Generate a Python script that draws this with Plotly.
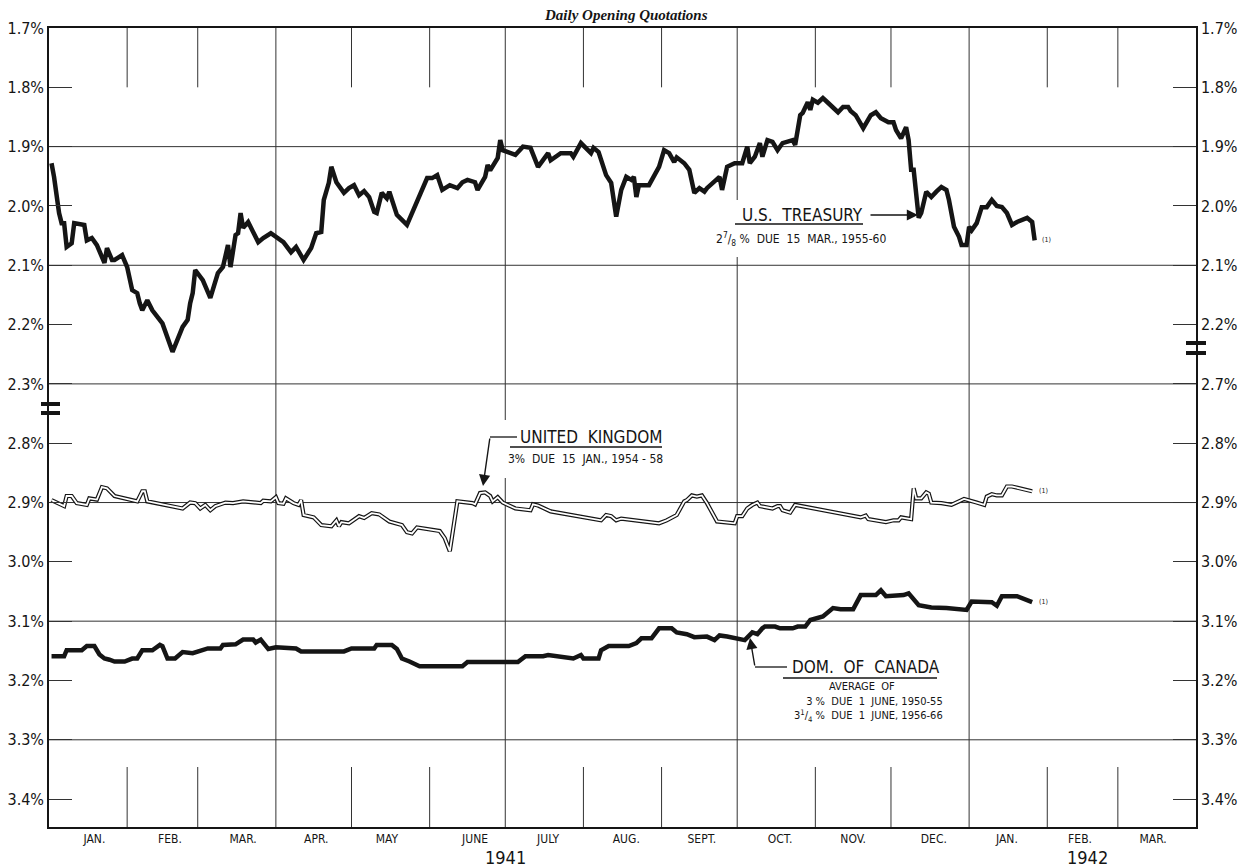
import plotly.graph_objects as go

# ---------------- data ----------------
us_dates = [
    "1941-01-02", "1941-01-03", "1941-01-05", "1941-01-06", "1941-01-07", "1941-01-08", "1941-01-10",
    "1941-01-11", "1941-01-15", "1941-01-16", "1941-01-18", "1941-01-20", "1941-01-23", "1941-01-24",
    "1941-01-26", "1941-01-27", "1941-01-30", "1941-02-01", "1941-02-03", "1941-02-05", "1941-02-06",
    "1941-02-07", "1941-02-09", "1941-02-11", "1941-02-15", "1941-02-19", "1941-02-23", "1941-02-25",
    "1941-02-26", "1941-02-27", "1941-02-28", "1941-03-03", "1941-03-06", "1941-03-09", "1941-03-11",
    "1941-03-13", "1941-03-14", "1941-03-16", "1941-03-17", "1941-03-18", "1941-03-19", "1941-03-21",
    "1941-03-25", "1941-03-27", "1941-03-30", "1941-04-01", "1941-04-04", "1941-04-07", "1941-04-09",
    "1941-04-12", "1941-04-15", "1941-04-17", "1941-04-19", "1941-04-20", "1941-04-22", "1941-04-23",
    "1941-04-25", "1941-04-28", "1941-04-30", "1941-05-02", "1941-05-04", "1941-05-06", "1941-05-08",
    "1941-05-10", "1941-05-11", "1941-05-13", "1941-05-15", "1941-05-16", "1941-05-19", "1941-05-23",
    "1941-05-25", "1941-05-28", "1941-05-31", "1941-06-02", "1941-06-04", "1941-06-06", "1941-06-09",
    "1941-06-12", "1941-06-14", "1941-06-16", "1941-06-19", "1941-06-20", "1941-06-23", "1941-06-24",
    "1941-06-25", "1941-06-28", "1941-06-29", "1941-06-30", "1941-07-03", "1941-07-05", "1941-07-08",
    "1941-07-11", "1941-07-14", "1941-07-18", "1941-07-19", "1941-07-23", "1941-07-27", "1941-07-28",
    "1941-07-31", "1941-08-02", "1941-08-04", "1941-08-05", "1941-08-07", "1941-08-10", "1941-08-12",
    "1941-08-14", "1941-08-16", "1941-08-18", "1941-08-20", "1941-08-21", "1941-08-22", "1941-08-23",
    "1941-08-27", "1941-08-31", "1941-09-02", "1941-09-04", "1941-09-06", "1941-09-07", "1941-09-10",
    "1941-09-12", "1941-09-14", "1941-09-16", "1941-09-18", "1941-09-19", "1941-09-22", "1941-09-24",
    "1941-09-25", "1941-09-27", "1941-09-30", "1941-10-03", "1941-10-05", "1941-10-06", "1941-10-08",
    "1941-10-10", "1941-10-11", "1941-10-13", "1941-10-15", "1941-10-17", "1941-10-19", "1941-10-21",
    "1941-10-23", "1941-10-24", "1941-10-26", "1941-10-27", "1941-10-29", "1941-10-30", "1941-10-31",
    "1941-11-02", "1941-11-04", "1941-11-06", "1941-11-08", "1941-11-10", "1941-11-12", "1941-11-14",
    "1941-11-15", "1941-11-17", "1941-11-20", "1941-11-23", "1941-11-25", "1941-11-27", "1941-11-30",
    "1941-12-02", "1941-12-03", "1941-12-05", "1941-12-07", "1941-12-08", "1941-12-09", "1941-12-10",
    "1941-12-12", "1941-12-13", "1941-12-15", "1941-12-17", "1941-12-19", "1941-12-21", "1941-12-23",
    "1941-12-24", "1941-12-26", "1941-12-28", "1941-12-29", "1941-12-31", "1942-01-01", "1942-01-02",
    "1942-01-04", "1942-01-06", "1942-01-08", "1942-01-09", "1942-01-10", "1942-01-12", "1942-01-14",
    "1942-01-16", "1942-01-18", "1942-01-20", "1942-01-22", "1942-01-24", "1942-01-26", "1942-01-27",
]
us_yield = [
    1.928, 1.951, 2.012, 2.029, 2.029, 2.069, 2.063,
    2.029, 2.032, 2.058, 2.054, 2.066, 2.096, 2.071,
    2.091, 2.091, 2.083, 2.103, 2.142, 2.147, 2.164,
    2.176, 2.159, 2.176, 2.198, 2.246, 2.204, 2.192,
    2.164, 2.147, 2.108, 2.125, 2.155, 2.113, 2.103,
    2.066, 2.103, 2.049, 2.046, 2.012, 2.037, 2.027,
    2.061, 2.054, 2.046, 2.052, 2.061, 2.078, 2.069,
    2.091, 2.071, 2.046, 2.044, 1.990, 1.961, 1.934,
    1.960, 1.978, 1.970, 1.965, 1.982, 1.975, 1.985,
    2.010, 2.012, 1.978, 1.987, 1.976, 2.015, 2.032,
    2.012, 1.985, 1.953, 1.953, 1.948, 1.973, 1.965,
    1.970, 1.960, 1.956, 1.960, 1.973, 1.951, 1.931,
    1.940, 1.919, 1.889, 1.906, 1.911, 1.914, 1.900,
    1.902, 1.934, 1.911, 1.923, 1.911, 1.911, 1.917,
    1.894, 1.902, 1.911, 1.902, 1.909, 1.948, 1.961,
    2.018, 1.973, 1.951, 1.956, 1.951, 1.985, 1.965,
    1.965, 1.934, 1.906, 1.911, 1.926, 1.918, 1.928,
    1.939, 1.978, 1.970, 1.976, 1.970, 1.960, 1.951,
    1.973, 1.934, 1.928, 1.928, 1.900, 1.928, 1.917,
    1.894, 1.917, 1.889, 1.892, 1.906, 1.894, 1.892,
    1.889, 1.897, 1.847, 1.843, 1.825, 1.838, 1.821,
    1.826, 1.818, 1.826, 1.833, 1.842, 1.833, 1.833,
    1.840, 1.847, 1.869, 1.847, 1.842, 1.852, 1.859,
    1.859, 1.872, 1.886, 1.867, 1.889, 1.939, 1.939,
    2.020, 2.012, 1.976, 1.985, 1.976, 1.968, 1.973,
    1.990, 2.035, 2.052, 2.066, 2.066, 2.035, 2.041,
    2.029, 2.002, 2.002, 1.995, 1.990, 2.000, 2.002,
    2.012, 2.032, 2.027, 2.024, 2.020, 2.027, 2.058,
]

uk_dates = [
    "1941-01-02", "1941-01-07", "1941-01-08", "1941-01-10", "1941-01-12", "1941-01-16", "1941-01-17",
    "1941-01-20", "1941-01-22", "1941-01-24", "1941-01-27", "1941-02-05", "1941-02-07", "1941-02-08",
    "1941-02-09", "1941-02-23", "1941-02-26", "1941-02-28", "1941-03-02", "1941-03-04", "1941-03-06",
    "1941-03-08", "1941-03-12", "1941-03-15", "1941-03-19", "1941-03-26", "1941-03-27", "1941-03-30",
    "1941-04-01", "1941-04-02", "1941-04-04", "1941-04-05", "1941-04-08", "1941-04-10", "1941-04-11",
    "1941-04-12", "1941-04-16", "1941-04-19", "1941-04-23", "1941-04-25", "1941-04-26", "1941-04-27",
    "1941-04-30", "1941-05-04", "1941-05-06", "1941-05-09", "1941-05-12", "1941-05-16", "1941-05-21",
    "1941-05-23", "1941-05-25", "1941-05-27", "1941-06-05", "1941-06-07", "1941-06-09", "1941-06-12",
    "1941-06-18", "1941-06-19", "1941-06-21", "1941-06-23", "1941-06-25", "1941-06-26", "1941-06-28",
    "1941-06-30", "1941-07-05", "1941-07-11", "1941-07-12", "1941-07-14", "1941-07-19", "1941-08-08",
    "1941-08-10", "1941-08-12", "1941-08-14", "1941-08-16", "1941-08-31", "1941-09-03", "1941-09-07",
    "1941-09-10", "1941-09-11", "1941-09-13", "1941-09-15", "1941-09-17", "1941-09-19", "1941-09-23",
    "1941-09-30", "1941-10-01", "1941-10-03", "1941-10-05", "1941-10-07", "1941-10-09", "1941-10-10",
    "1941-10-15", "1941-10-17", "1941-10-18", "1941-10-19", "1941-10-22", "1941-10-24", "1941-11-14",
    "1941-11-19", "1941-11-21", "1941-11-22", "1941-11-29", "1941-12-02", "1941-12-04", "1941-12-05",
    "1941-12-09", "1941-12-10", "1941-12-11", "1941-12-13", "1941-12-15", "1941-12-16", "1941-12-17",
    "1941-12-21", "1941-12-25", "1941-12-30", "1942-01-04", "1942-01-07", "1942-01-08", "1942-01-10",
    "1942-01-12", "1942-01-14", "1942-01-16", "1942-01-18", "1942-01-26",
]
uk_yield = [
    2.896, 2.906, 2.889, 2.889, 2.901, 2.904, 2.893,
    2.895, 2.874, 2.876, 2.889, 2.898, 2.881, 2.881,
    2.898, 2.910, 2.900, 2.901, 2.910, 2.904, 2.913,
    2.906, 2.900, 2.901, 2.898, 2.901, 2.897, 2.898,
    2.891, 2.901, 2.902, 2.893, 2.901, 2.904, 2.896,
    2.921, 2.925, 2.938, 2.940, 2.930, 2.940, 2.933,
    2.935, 2.923, 2.926, 2.918, 2.920, 2.932, 2.938,
    2.950, 2.952, 2.942, 2.948, 2.960, 2.982, 2.898,
    2.901, 2.903, 2.884, 2.883, 2.889, 2.898, 2.891,
    2.900, 2.910, 2.913, 2.903, 2.905, 2.915, 2.930,
    2.921, 2.923, 2.930, 2.927, 2.935, 2.930, 2.921,
    2.898, 2.896, 2.888, 2.890, 2.888, 2.901, 2.932,
    2.935, 2.923, 2.923, 2.910, 2.904, 2.900, 2.906,
    2.910, 2.906, 2.906, 2.913, 2.917, 2.904, 2.921,
    2.925, 2.922, 2.928, 2.933, 2.930, 2.930, 2.925,
    2.928, 2.876, 2.893, 2.893, 2.883, 2.885, 2.900,
    2.901, 2.904, 2.894, 2.900, 2.904, 2.890, 2.886,
    2.888, 2.888, 2.873, 2.873, 2.881,
]

ca_dates = [
    "1941-01-02", "1941-01-07", "1941-01-08", "1941-01-14", "1941-01-16", "1941-01-19", "1941-01-21",
    "1941-01-23", "1941-01-25", "1941-01-27", "1941-01-31", "1941-02-03", "1941-02-05", "1941-02-07",
    "1941-02-11", "1941-02-14", "1941-02-15", "1941-02-17", "1941-02-20", "1941-02-23", "1941-02-27",
    "1941-03-02", "1941-03-05", "1941-03-10", "1941-03-11", "1941-03-16", "1941-03-19", "1941-03-23",
    "1941-03-24", "1941-03-26", "1941-03-29", "1941-04-01", "1941-04-09", "1941-04-11", "1941-04-28",
    "1941-05-01", "1941-05-10", "1941-05-11", "1941-05-17", "1941-05-19", "1941-05-21", "1941-05-24",
    "1941-05-28", "1941-06-14", "1941-06-16", "1941-07-06", "1941-07-09", "1941-07-16", "1941-07-18",
    "1941-07-28", "1941-07-31", "1941-08-01", "1941-08-07", "1941-08-08", "1941-08-11", "1941-08-19",
    "1941-08-22", "1941-08-24", "1941-08-28", "1941-08-31", "1941-09-05", "1941-09-07", "1941-09-11",
    "1941-09-14", "1941-09-19", "1941-09-22", "1941-09-24", "1941-09-27", "1941-09-30", "1941-10-04",
    "1941-10-07", "1941-10-09", "1941-10-11", "1941-10-12", "1941-10-16", "1941-10-18", "1941-10-23",
    "1941-10-25", "1941-10-28", "1941-10-30", "1941-11-04", "1941-11-08", "1941-11-11", "1941-11-16",
    "1941-11-19", "1941-11-25", "1941-11-27", "1941-11-29", "1941-12-06", "1941-12-08", "1941-12-12",
    "1941-12-17", "1941-12-23", "1941-12-31", "1942-01-02", "1942-01-10", "1942-01-12", "1942-01-14",
    "1942-01-20", "1942-01-22", "1942-01-26",
]
ca_yield = [
    3.159, 3.159, 3.149, 3.149, 3.142, 3.142, 3.156,
    3.163, 3.165, 3.168, 3.168, 3.163, 3.163, 3.149,
    3.149, 3.140, 3.142, 3.163, 3.163, 3.152, 3.154,
    3.149, 3.146, 3.146, 3.140, 3.139, 3.131, 3.131,
    3.136, 3.131, 3.147, 3.144, 3.146, 3.151, 3.151,
    3.146, 3.146, 3.140, 3.140, 3.147, 3.163, 3.168,
    3.176, 3.176, 3.169, 3.169, 3.159, 3.159, 3.157,
    3.163, 3.157, 3.163, 3.163, 3.149, 3.142, 3.142,
    3.137, 3.129, 3.129, 3.112, 3.112, 3.119, 3.122,
    3.127, 3.126, 3.132, 3.124, 3.126, 3.128, 3.132,
    3.119, 3.122, 3.112, 3.109, 3.109, 3.112, 3.112,
    3.109, 3.109, 3.098, 3.092, 3.078, 3.080, 3.080,
    3.056, 3.056, 3.048, 3.058, 3.056, 3.053, 3.073,
    3.077, 3.078, 3.081, 3.067, 3.068, 3.074, 3.058,
    3.058, 3.061, 3.068,
]

month_ticks = ["1941-01-19", "1941-02-18", "1941-03-19", "1941-04-17", "1941-05-15",
               "1941-06-19", "1941-07-18", "1941-08-18", "1941-09-17", "1941-10-18",
               "1941-11-16", "1941-12-18", "1942-01-16", "1942-02-14", "1942-03-15"]
month_labels = ["JAN.", "FEB.", "MAR.", "APR.", "MAY", "JUNE", "JULY", "AUG.", "SEPT.",
                "OCT.", "NOV.", "DEC.", "JAN.", "FEB.", "MAR."]
quarter_lines = ["1941-04-01", "1941-07-01", "1941-10-01", "1942-01-01"]
month_lines = ["1941-02-01", "1941-03-01", "1941-05-01", "1941-06-01", "1941-08-01",
               "1941-09-01", "1941-11-01", "1941-12-01", "1942-02-01", "1942-03-01"]

left_ticks = [1.7, 1.8, 1.9, 2.0, 2.1, 2.2, 2.3, 2.8, 2.9, 3.0, 3.1, 3.2, 3.3, 3.4]
right_ticks = [1.7, 1.8, 1.9, 2.0, 2.1, 2.2, 2.7, 2.8, 2.9, 3.0, 3.1, 3.2, 3.3, 3.4]
grid_yields = [1.9, 2.1, 2.3, 2.9, 3.1, 3.3]


# broken scale: everything at 2.5% or above is pulled up by 0.4
def pos(v):
    return v if v < 2.5 else round(v - 0.4, 4)


# pixel helpers for the decorations (plot area 49..1196 x 28..827)
def px(x):
    return (x - 49) / 1147


def py(y):
    return 1 - (y - 28) / 799


INK = "#151515"
FONT = "Liberation Sans Narrow, DejaVu Sans Condensed, Roboto, sans-serif"

fig = go.Figure()

fig.add_trace(go.Scatter(x=us_dates, y=[pos(v) for v in us_yield], mode="lines",
                         line=dict(color=INK, width=4.5), hoverinfo="skip"))
fig.add_trace(go.Scatter(x=uk_dates, y=[pos(v) for v in uk_yield], mode="lines",
                         line=dict(color=INK, width=4.2), hoverinfo="skip"))
fig.add_trace(go.Scatter(x=uk_dates, y=[pos(v) for v in uk_yield], mode="lines",
                         line=dict(color="white", width=1.8), hoverinfo="skip"))
fig.add_trace(go.Scatter(x=ca_dates, y=[pos(v) for v in ca_yield], mode="lines",
                         line=dict(color=INK, width=4.5), hoverinfo="skip"))
# invisible trace so the right axis gets drawn
fig.add_trace(go.Scatter(x=[us_dates[0]], y=[pos(us_yield[0])], yaxis="y2", mode="markers",
                         marker=dict(opacity=0), hoverinfo="skip"))

shapes = []
for g in grid_yields:
    shapes.append(dict(type="line", xref="paper", yref="y", x0=0, x1=1, y0=pos(g), y1=pos(g),
                       line=dict(color="#333", width=1), layer="below"))
for d in quarter_lines:
    shapes.append(dict(type="line", xref="x", yref="paper", x0=d, x1=d, y0=0, y1=1,
                       line=dict(color="#333", width=1), layer="below"))
for d in month_lines:
    shapes.append(dict(type="line", xref="x", yref="y", x0=d, x1=d, y0=1.7, y1=1.8,
                       line=dict(color="#333", width=1), layer="below"))
    shapes.append(dict(type="line", xref="x", yref="paper", x0=d, x1=d, y0=0, y1=py(767),
                       line=dict(color="#333", width=1), layer="below"))

# gaps in the grid behind the lettering
for (x0, y0, x1, y1) in [(733, 200, 745, 257), (500, 420, 512, 478)]:
    shapes.append(dict(type="rect", xref="paper", yref="paper", x0=px(x0), x1=px(x1),
                       y0=py(y1), y1=py(y0), line=dict(width=0), fillcolor="white",
                       layer="below"))

# axis break marks
for x0, x1, ys in [(41, 60, (404, 413)), (1186, 1206, (343, 353))]:
    for yy in ys:
        shapes.append(dict(type="line", xref="paper", yref="paper", x0=px(x0), x1=px(x1),
                           y0=py(yy), y1=py(yy), line=dict(color=INK, width=4)))

# underlines and leader lines
for (x0, y0, x1, y1) in [(735, 224, 863, 224), (510, 447, 662, 447), (490, 437, 517, 437),
                         (783, 678, 937, 678), (755, 667, 787, 667)]:
    shapes.append(dict(type="line", xref="paper", yref="paper", x0=px(x0), x1=px(x1),
                       y0=py(y0), y1=py(y1), line=dict(color=INK, width=1.3)))

annotations = []


def label(text, x, y, size, anchor="left", yanchor="middle", align="left"):
    annotations.append(dict(text=text, x=px(x), y=py(y), xref="paper", yref="paper",
                            xanchor=anchor, yanchor=yanchor, align=align, showarrow=False,
                            font=dict(family=FONT, size=size, color=INK)))


def arrow(x, y, ax, ay):
    annotations.append(dict(text="", x=px(x), y=py(y), xref="paper", yref="paper",
                            ax=ax, ay=ay, showarrow=True, arrowhead=2, arrowsize=1.6,
                            arrowwidth=1.4, arrowcolor=INK))


label("U.S.  TREASURY", 740, 215, 17)
label("2<sup>7</sup>/<sub>8</sub> %  DUE  15  MAR., 1955-60", 714, 239, 12)
arrow(918, 215, -49, 0)

label("UNITED  KINGDOM", 518, 437, 17)
label("3%  DUE  15  JAN., 1954 - 58", 506, 459, 12)
arrow(483, 486, 7, -49)

label("DOM.  OF  CANADA", 790, 667, 17)
label("AVERAGE  OF", 862, 686, 11, anchor="center")
label("3 %  DUE  1  JUNE, 1950-55<br>3<sup>1</sup>/<sub>4</sub> %  DUE  1  JUNE, 1956-66",
      945, 693, 11, anchor="right", yanchor="top", align="right")
arrow(750, 638, 5, 29)

for dts, vals in [(us_dates, us_yield), (uk_dates, uk_yield), (ca_dates, ca_yield)]:
    annotations.append(dict(text="(1)", x=dts[-1], y=pos(vals[-1]), xref="x", yref="y",
                            xanchor="left", yanchor="middle", xshift=5, showarrow=False,
                            font=dict(family=FONT, size=7, color=INK)))

label("1941", 505, 857, 18, anchor="center")
label("1942", 1087, 857, 18, anchor="center")
annotations.append(dict(text="<b><i>Daily Opening Quotations</i></b>", x=px(626), y=py(15),
                        xref="paper", yref="paper", xanchor="center", yanchor="middle",
                        showarrow=False,
                        font=dict(family="Liberation Serif, DejaVu Serif, serif", size=15,
                                  color=INK)))

fig.update_layout(
    width=1248, height=868,
    margin=dict(l=49, r=52, t=28, b=41, autoexpand=False),
    paper_bgcolor="white", plot_bgcolor="white",
    showlegend=False,
    shapes=shapes, annotations=annotations,
    xaxis=dict(type="date", range=["1941-01-01", "1942-04-01"], tickvals=month_ticks,
               ticktext=month_labels, ticks="", showgrid=False, zeroline=False,
               showline=True, linecolor=INK, linewidth=1.5, mirror=True, automargin=False,
               tickfont=dict(family=FONT, size=12, color=INK)),
    yaxis=dict(range=[3.047, 1.7], tickvals=[pos(v) for v in left_ticks],
               ticktext=[f"{v:.1f}%" for v in left_ticks], ticks="inside", ticklen=23,
               tickcolor="#333", showgrid=False, zeroline=False, showline=True,
               linecolor=INK, linewidth=1.5, automargin=False,
               tickfont=dict(family=FONT, size=16, color=INK)),
    yaxis2=dict(range=[3.047, 1.7], overlaying="y", side="right",
                tickvals=[pos(v) for v in right_ticks],
                ticktext=[f"{v:.1f}%" for v in right_ticks], ticks="inside", ticklen=23,
                tickcolor="#333", showgrid=False, zeroline=False, showline=True,
                linecolor=INK, linewidth=1.5, automargin=False,
                tickfont=dict(family=FONT, size=16, color=INK)),
)

fig.write_html("out.html", config={"displayModeBar": False},
               post_script="document.body.style.margin='0';")
